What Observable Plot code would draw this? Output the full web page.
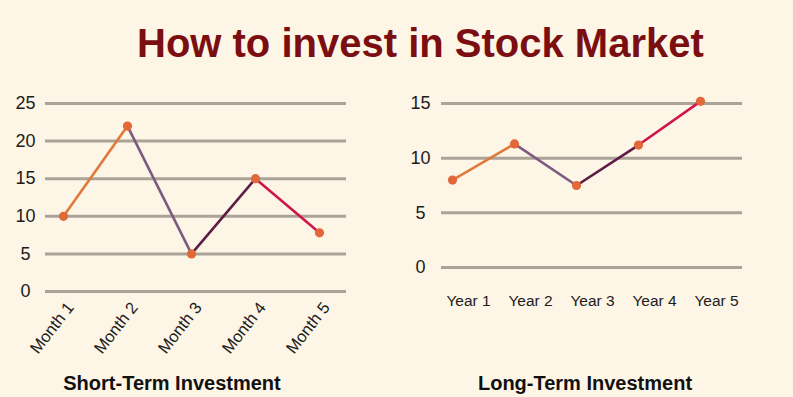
<!DOCTYPE html>
<html>
<head>
<meta charset="utf-8">
<script src="https://cdn.jsdelivr.net/npm/d3@7"></script>
<script src="https://cdn.jsdelivr.net/npm/@observablehq/plot@0.6"></script>
<style>
  html, body { margin: 0; padding: 0; }
  body { background: #fdf5e6; width: 793px; height: 397px; overflow: hidden; position: relative; font-family: "Liberation Sans", Arial, sans-serif; }
  #title { position: absolute; left: 137px; top: 23px; font-size: 40px; line-height: 40px; font-weight: bold; color: #7a0e10; white-space: nowrap; }
  .sub { position: absolute; top: 373px; font-size: 20px; line-height: 20px; font-weight: bold; color: #111; text-align: center; white-space: nowrap; }
  #subL { left: 22px; width: 300px; }
  #subR { left: 435px; width: 300px; }
  #left { position: absolute; left: 0; top: 0; }
  #right { position: absolute; left: 390px; top: 0; }
  svg { background: transparent !important; }
</style>
</head>
<body>
<div id="title">How to invest in Stock Market</div>
<div id="left"></div>
<div id="right"></div>
<div class="sub" id="subL">Short-Term Investment</div>
<div class="sub" id="subR">Long-Term Investment</div>
<script>
const shortLabels = ["Month 1", "Month 2", "Month 3", "Month 4", "Month 5"];
const shortValues = [10, 22, 5, 15, 7.8];
const shortTicks = [0, 5, 10, 15, 20, 25];

const longLabels = ["Year 1", "Year 2", "Year 3", "Year 4", "Year 5"];
const longValues = [8, 11.3, 7.5, 11.2, 15.2];
const longTicks = [0, 5, 10, 15];

const segmentColors = ["#e07a3c", "#7d5a7f", "#5e1b46", "#cf164c"];
const dotColor = "#e2683a";
const gridColor = "#aba398";
const textColor = "#1c1c1c";

function toPoints(labels, values) {
  return labels.map((l, i) => ({label: l, value: values[i]}));
}
function toSegments(pts) {
  return pts.slice(1).map((p, i) => ({
    x1: pts[i].label, y1: pts[i].value, x2: p.label, y2: p.value, color: segmentColors[i]
  }));
}

function chart({labels, values, ticks, width, height, marginLeft, marginRight, marginTop, marginBottom, padding, align, yPad, xAxis}) {
  const pts = toPoints(labels, values);
  const segs = toSegments(pts);
  return Plot.plot({
    width, height, marginLeft, marginRight, marginTop, marginBottom,
    style: {background: "transparent", color: textColor, fontFamily: "Liberation Sans, Arial, sans-serif"},
    x: {type: "point", domain: labels, padding, align},
    y: {domain: [0, d3.max(ticks)]},
    marks: [
      Plot.ruleY(ticks, {stroke: gridColor, strokeWidth: 3}),
      Plot.link(segs, {x1: "x1", y1: "y1", x2: "x2", y2: "y2", stroke: d => d.color, strokeWidth: 2.6}),
      Plot.dot(pts, {x: "label", y: "value", r: 4.6, fill: dotColor}),
      Plot.axisY({ticks, tickSize: 0, tickPadding: yPad, textAnchor: "middle", fontSize: 18, fill: textColor}),
      xAxis
    ]
  });
}

document.getElementById("left").append(chart({
  labels: shortLabels, values: shortValues, ticks: shortTicks,
  width: 380, height: 397, marginLeft: 45, marginRight: 34, marginTop: 103, marginBottom: 106,
  padding: 0.33, align: 0.39, yPad: 20,
  xAxis: Plot.axisX({tickSize: 0, tickRotate: -52, tickPadding: 13, dx: 7, fontSize: 16.5, fill: textColor})
}));

document.getElementById("right").append(chart({
  labels: longLabels, values: longValues, ticks: longTicks,
  width: 403, height: 397, marginLeft: 51, marginRight: 51, marginTop: 103, marginBottom: 130,
  padding: 0.4, align: 0.21, yPad: 21,
  xAxis: Plot.axisX({tickSize: 0, tickPadding: 27, dx: 16, fontSize: 15.5, fill: textColor})
}));
</script>
</body>
</html>
